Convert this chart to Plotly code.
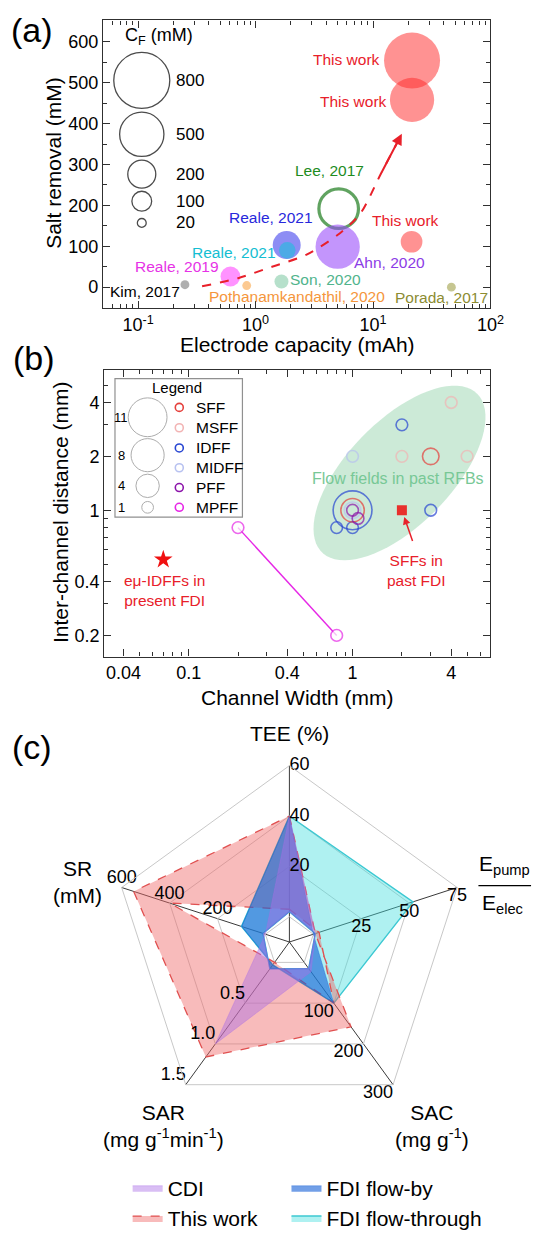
import numpy as np
import plotly.graph_objects as go

W, H = 547, 1239
FONT = "Liberation Sans, Arial, Helvetica, sans-serif"


def fx(p):
    return p / W


def fy(p):
    return 1 - p / H


# ---------------- panel (a) data ----------------
a_labels = ["This work", "This work", "This work", "Lee, 2017", "Ahn, 2020",
            "Reale, 2021", "Reale, 2021", "Reale, 2019", "Son, 2020",
            "Kim, 2017", "Pothanamkandathil, 2020", "Porada, 2017"]
a_capacity_mAh = [21.5, 21.5, 21.3, 5.1, 5.0, 1.84, 1.86, 0.61, 1.66, 0.25, 0.84, 46.5]
a_salt_removal_mM = [554, 458, 111, 192, 99, 103, 90, 26, 14, 6, 4, 0]
a_feed_conc_mM = [800, 500, 120, 400, 500, 200, 70, 100, 50, 20, 20, 20]
cf_legend_values = [800, 500, 200, 100, 20]
a_xticks = [0.1, 1, 10, 100]
a_xticktext = ["10<sup>-1</sup>", "10<sup>0</sup>", "10<sup>1</sup>", "10<sup>2</sup>"]
a_yticks = [0, 100, 200, 300, 400, 500, 600]
trend_capacity = [0.35, 0.71, 1.38, 2.69, 5.23, 7.8, 11.7, 17.6]
trend_removal = [2, 22, 50, 79, 132, 180, 278, 375]

# ---------------- panel (b) data ----------------
sff_width = [3, 1];            sff_dist = [2, 1];            sff_n = [2, 4]
msff_width = [4, 2, 5];        msff_dist = [4, 2, 2];        msff_n = [1, 1, 1]
idff_width = [2, 1, 0.8, 1, 3]; idff_dist = [3, 1, 0.8, 0.8, 1]; idff_n = [1, 11, 1, 1, 1]
midff_width = [1, 1];          midff_dist = [2, 1];          midff_n = [1, 2]
pff_width = [1, 1.08];         pff_dist = [1, 0.9];          pff_n = [1, 1]
mpff_width = [0.2, 0.8];       mpff_dist = [0.8, 0.2];       mpff_n = [1, 1]
present_fdi_width = [0.07];    present_fdi_dist = [0.53]
past_fdi_width = [2];          past_fdi_dist = [1]
ff_types = ["SFF", "MSFF", "IDFF", "MIDFF", "PFF", "MPFF"]
count_legend_values = [11, 8, 4, 1]
b_xticks = [0.04, 0.1, 0.4, 1, 4]
b_yticks = [0.2, 0.4, 1, 2, 4]

# ---------------- panel (c) data ----------------
radar_axes = ["TEE", "Epump/Eelec", "SAC", "SAR", "SR"]
radar_max = [60, 75, 300, 1.5, 600]
tee_ticks = [0, 20, 40, 60]
epump_ticks = [0, 25, 50, 75]
sac_ticks = [0, 100, 200, 300]
sar_ticks = [0.0, 0.5, 1.0, 1.5]
sr_ticks = [0, 200, 400, 600]
cdi_a = [40, 1, 23, 1.0, 0]
cdi_b = [2, 1, 15, 0.08, 10]
this_work_a = [40, 1, 158, 1.16, 550]
this_work_b = [3, 3, 100, 0.0, 400]
flow_by_a = [40, 0, 100, 0.03, 100]
flow_by_b = [2, 1, 15, 0.08, 10]
flow_through_a = [40, 52, 100, 0.03, 100]
flow_through_b = [2, 1, 15, 0.08, 10]

fig = go.Figure()

# ---------------- panel (a) ----------------
SIZEREF_A = 0.51
a_fill = ['rgba(255,40,40,0.72)', 'rgba(255,40,40,0.72)', 'rgba(255,40,40,0.72)',
          'rgba(0,0,0,0)', 'rgba(150,70,250,0.82)', 'rgba(45,45,235,0.78)',
          'rgba(30,190,220,0.85)', 'rgba(255,60,255,0.8)', 'rgba(80,180,130,0.6)',
          'rgba(120,120,120,0.85)', 'rgba(250,160,60,0.8)', 'rgba(160,160,70,0.85)']
a_line_c = ['rgba(0,0,0,0)'] * 3 + ['#1E7D1E'] + ['rgba(0,0,0,0)'] * 8
a_line_w = [0, 0, 0, 3.2, 0, 0, 0, 0, 0, 0, 0, 0]
fig.add_trace(go.Scatter(
    x=a_capacity_mAh, y=a_salt_removal_mM, mode='markers', xaxis='x', yaxis='y',
    marker=dict(size=a_feed_conc_mM, sizemode='area', sizeref=SIZEREF_A,
                color=a_fill, line=dict(color=a_line_c, width=a_line_w)),
    showlegend=False, hoverinfo='skip'))
fig.add_trace(go.Scatter(
    x=trend_capacity, y=trend_removal, mode='lines', xaxis='x', yaxis='y',
    line=dict(color='#E8202A', width=2, dash='dash', shape='spline', smoothing=0.8),
    showlegend=False, hoverinfo='skip'))

# ---------------- panel (b) ----------------
SIZEREF_B = 0.0146
ff_colors = {"SFF": '#E5403C', "MSFF": '#F2B4B4', "IDFF": '#2846D2',
             "MIDFF": '#B8C2F0', "PFF": '#8C14AA', "MPFF": '#E628E6'}
groups_b = [("IDFF", idff_width, idff_dist, idff_n),
            ("SFF", sff_width, sff_dist, sff_n),
            ("MSFF", msff_width, msff_dist, msff_n),
            ("MIDFF", midff_width, midff_dist, midff_n),
            ("PFF", pff_width, pff_dist, pff_n)]
for name, xs, ys, ns in groups_b:
    fig.add_trace(go.Scatter(
        x=xs, y=ys, mode='markers', xaxis='x2', yaxis='y2',
        marker=dict(size=ns, sizemode='area', sizeref=SIZEREF_B,
                    color='rgba(0,0,0,0)', line=dict(color=ff_colors[name], width=1.6)),
        showlegend=False, hoverinfo='skip'))
fig.add_trace(go.Scatter(
    x=mpff_width, y=mpff_dist, mode='lines+markers', xaxis='x2', yaxis='y2',
    line=dict(color=ff_colors["MPFF"], width=1.4),
    marker=dict(size=mpff_n, sizemode='area', sizeref=SIZEREF_B,
                color='white', line=dict(color=ff_colors["MPFF"], width=1.6)),
    showlegend=False, hoverinfo='skip'))
fig.add_trace(go.Scatter(
    x=present_fdi_width, y=present_fdi_dist, mode='markers', xaxis='x2', yaxis='y2',
    marker=dict(symbol='star', size=14, color='#F01010', line=dict(width=0)),
    showlegend=False, hoverinfo='skip'))
fig.add_trace(go.Scatter(
    x=past_fdi_width, y=past_fdi_dist, mode='markers', xaxis='x2', yaxis='y2',
    marker=dict(symbol='square', size=10, color='#E8302C', line=dict(width=0)),
    showlegend=False, hoverinfo='skip'))

# ---------------- legend glyphs (pixel overlay axes) ----------------
cf_leg_y = [81.3, 135.7, 176.0, 203.3, 225.3]
fig.add_trace(go.Scatter(
    x=[145.5] * len(cf_legend_values), y=cf_leg_y, mode='markers', xaxis='x3', yaxis='y3',
    marker=dict(size=cf_legend_values, sizemode='area', sizeref=SIZEREF_A,
                color='rgba(0,0,0,0)', line=dict(color='black', width=1.3)),
    showlegend=False, hoverinfo='skip'))
cnt_leg_y = [421.7, 460.0, 491.0, 512.7]
fig.add_trace(go.Scatter(
    x=[151.5] * len(count_legend_values), y=cnt_leg_y, mode='markers', xaxis='x3', yaxis='y3',
    marker=dict(size=count_legend_values, sizemode='area', sizeref=SIZEREF_B,
                color='rgba(0,0,0,0)', line=dict(color='#8a8a8a', width=1)),
    showlegend=False, hoverinfo='skip'))
type_leg_y = [411.7, 432.3, 452.7, 472.7, 492.7, 512.7]
fig.add_trace(go.Scatter(
    x=[184] * len(ff_types), y=type_leg_y, mode='markers', xaxis='x3', yaxis='y3',
    marker=dict(size=8, color='rgba(0,0,0,0)',
                line=dict(color=[ff_colors[t] for t in ff_types], width=1.6)),
    showlegend=False, hoverinfo='skip'))

# ---------------- panel (c) radar ----------------
def loop(vals, reverse=False):
    r = [v / m for v, m in zip(vals, radar_max)]
    th = list(radar_axes)
    if reverse:
        r = [r[0]] + r[1:][::-1]
        th = [th[0]] + th[1:][::-1]
    return r + [r[0]], th + [th[0]]


def group_path(a, b):
    ra, ta = loop(a)
    rb, tb = loop(b, reverse=True)
    return ra + [None] + rb, ta + [None] + tb


radar_groups = [
    ("FDI flow-through", flow_through_a, flow_through_b, 'rgba(64,222,222,0.42)',
     dict(color='#3CC8D2', width=1.4), 2, 'legend2'),
    ("This work", this_work_a, this_work_b, 'rgba(240,105,105,0.45)',
     dict(color='#E05050', width=1.3, dash='dash'), 2, 'legend'),
    ("FDI flow-by", flow_by_a, flow_by_b, 'rgba(20,95,215,0.6)',
     dict(color='rgba(20,95,215,0.6)', width=0.6), 1, 'legend2'),
    ("CDI", cdi_a, cdi_b, 'rgba(170,110,230,0.45)',
     dict(color='rgba(170,110,230,0.6)', width=0.6), 1, 'legend'),
]
for name, a, b, fc, ln, rank, lg in radar_groups:
    rr, tt = group_path(a, b)
    fig.add_trace(go.Scatterpolar(
        r=rr, theta=tt, mode='lines', fill='toself', fillcolor=fc, line=ln,
        name=name, legendrank=rank, legend=lg, connectgaps=False, hoverinfo='skip'))

tick_sets = [(tee_ticks, "TEE", ["0", "20", "40", "60"], 'middle right'),
             (epump_ticks, "Epump/Eelec", ["0", "25", "50", "75"], 'bottom center'),
             (sac_ticks, "SAC", ["0", "100", "200", "300"], 'bottom left'),
             (sar_ticks, "SAR", ["0.0", "0.5", "1.0", "1.5"], 'top left'),
             (sr_ticks, "SR", ["0", "200", "400", "600"], 'top center')]
for ticks, ax_name, txt, pos in tick_sets:
    m = radar_max[radar_axes.index(ax_name)]
    fig.add_trace(go.Scatterpolar(
        r=[t / m for t in ticks], theta=[ax_name] * len(ticks), mode='text',
        text=txt, textposition=pos, textfont=dict(size=18, color='black', family=FONT),
        showlegend=False, hoverinfo='skip'))

# ---------------- annotations ----------------
ann = []


def text(x, y, s, size=15.5, color='black', xanchor='center', angle=0):
    ann.append(dict(x=fx(x), y=fy(y), xref='paper', yref='paper', text=s, showarrow=False,
                    xanchor=xanchor, yanchor='middle', textangle=angle,
                    font=dict(size=size, color=color, family=FONT)))


# panel labels
text(33, 30, "(a)", 34)
text(35, 362, "(b)", 34)
text(33, 755, "(c)", 34)

# panel (a)
text(55, 165, "Salt removal (mM)", 21, angle=-90)
text(305, 348.5, "Electrode capacity (mAh)", 21)
text(163, 37, "C<sub>F</sub> (mM)", 18)
for v, yy in zip(cf_legend_values, cf_leg_y):
    text(178.5, yy, str(v), 17, xanchor='left')
a_lab_pos = [(392.5, 60, 'right'), (399.5, 102.7, 'right'), (416.3, 222.7, 'center'),
             (337.8, 172.7, 'center'), (399.5, 265.7, 'center'), (278.4, 220, 'center'),
             (240, 255, 'center'), (181.4, 269.3, 'center'), (334.3, 282.3, 'center'),
             (149.3, 295, 'center'), (305.3, 300, 'center'), (453.6, 300.5, 'center')]
a_lab_col = ['#E8202A', '#E8202A', '#E8202A', '#1E8C1E', '#8C3CE6', '#2828DC', '#14BED2',
             '#E632E6', '#50B48C', 'black', '#F5963C', '#8C8C32']
for lab, (x, y, xa), c in zip(a_labels, a_lab_pos, a_lab_col):
    text(x, y, lab, 15.5, c, xanchor=xa)
ann.append(dict(x=np.log10(trend_capacity[-1]), y=trend_removal[-1], xref='x', yref='y',
                ax=np.log10(trend_capacity[-2]), ay=trend_removal[-2], axref='x', ayref='y',
                text='', showarrow=True, arrowhead=2, arrowsize=1.1, arrowwidth=2,
                arrowcolor='#E8202A', standoff=0))

# panel (b)
text(62, 518, "Inter-channel distance (mm)", 21, angle=-90)
text(305, 705, "Channel Width (mm)", 21)
text(181.4, 391.7, "Legend", 15)
for v, yy in zip(count_legend_values, cnt_leg_y):
    text(124.6, yy, str(v), 13)
for t, yy in zip(ff_types, type_leg_y):
    text(199, yy, t, 15.5, xanchor='left')
text(408, 484, "Flow fields in past RFBs", 16, '#78C896')
text(168.5, 597, "eμ-IDFFs in<br>present FDI", 15.5, '#E8202A')
text(427.4, 577, "SFFs in<br>past FDI", 15.5, '#E8202A')
ann.append(dict(x=np.log10(past_fdi_width[0]), y=np.log10(past_fdi_dist[0]), xref='x2', yref='y2',
                ax=np.log10(2.34), ay=np.log10(0.66), axref='x2', ayref='y2',
                text='', showarrow=True, arrowhead=2, arrowsize=1, arrowwidth=1.5,
                arrowcolor='#E8202A', standoff=7))

# panel (c)
text(297, 741, "TEE (%)", 21)
text(80, 891, "SR<br>(mM)", 21)
text(167.5, 1137.5, "SAR<br>(mg g<sup>-1</sup>min<sup>-1</sup>)", 21)
text(443, 1137.5, "SAC<br>(mg g<sup>-1</sup>)", 21)
text(518, 874, "E<sub>pump</sub>", 21)
text(516, 914, "E<sub>elec</sub>", 21)

# ---------------- shapes ----------------
shapes = []
t = np.linspace(0, 2 * np.pi, 80)
cx, cy, ea, eb, ang = 410, 478, 113, 53, np.deg2rad(45)
ex = cx + ea * np.cos(t) * np.cos(ang) - eb * np.sin(t) * np.sin(ang)
ey = cy - (ea * np.cos(t) * np.sin(ang) + eb * np.sin(t) * np.cos(ang))
path = "M " + " L ".join(f"{fx(a):.5f},{fy(b):.5f}" for a, b in zip(ex, ey)) + " Z"
shapes.append(dict(type='path', path=path, xref='paper', yref='paper', layer='below',
                   fillcolor='rgba(120,200,150,0.38)', line=dict(width=0)))
shapes.append(dict(type='rect', xref='paper', yref='paper', x0=fx(118), x1=fx(248.8),
                   y0=fy(522.7), y1=fy(382.7), line=dict(color='#909090', width=1.2),
                   fillcolor='rgba(0,0,0,0)'))
shapes.append(dict(type='line', xref='paper', yref='paper', x0=fx(491), x1=fx(545),
                   y0=fy(895), y1=fy(895), line=dict(color='black', width=1.3)))

axis_common = dict(showline=True, linecolor='#303030', linewidth=1.3, mirror='allticks',
                   ticks='inside', ticklen=7, tickwidth=1.2, tickcolor='#303030',
                   showgrid=False, zeroline=False,
                   tickfont=dict(size=18, color='black', family=FONT))


def log_minor(lo, hi):
    vals = []
    for d in range(lo, hi + 1):
        for k in range(2, 10):
            vals.append(k * 10.0 ** d)
    return vals


legend_common = dict(orientation='v', xanchor='left', yanchor='top',
                     font=dict(size=21, family=FONT), bgcolor='rgba(0,0,0,0)',
                     tracegroupgap=0, traceorder='normal')

fig.update_layout(
    width=W, height=H, margin=dict(l=0, r=0, t=0, b=0),
    paper_bgcolor='white', plot_bgcolor='rgba(0,0,0,0)',
    font=dict(family=FONT, color='black'),
    hovermode=False,
    xaxis=dict(domain=[fx(105.7), fx(503.3)], anchor='y', type='log', range=[-1.3, 2.0],
               tickmode='array', tickvals=a_xticks, ticktext=a_xticktext,
               minor=dict(tickmode='array', tickvals=log_minor(-2, 1), ticks='inside',
                          ticklen=4, tickcolor='#303030'),
               **axis_common),
    yaxis=dict(domain=[fy(311.7), fy(20.7)], anchor='x', range=[-52, 652],
               tickmode='array', tickvals=a_yticks,
               minor=dict(tickmode='array', tickvals=[50, 150, 250, 350, 450, 550, 650],
                          ticks='inside', ticklen=4, tickcolor='#303030'),
               **axis_common),
    xaxis2=dict(domain=[fx(107), fx(503.1)], anchor='y2', type='log', range=[-1.515, 0.840],
                tickmode='array', tickvals=b_xticks, ticktext=[str(v) for v in b_xticks],
                minor=dict(tickmode='array', tickvals=log_minor(-2, 0), ticks='inside',
                           ticklen=4, tickcolor='#303030'),
                **axis_common),
    yaxis2=dict(domain=[fy(663.5), fy(374)], anchor='x2', type='log', range=[-0.817, 0.783],
                tickmode='array', tickvals=b_yticks, ticktext=[str(v) for v in b_yticks],
                minor=dict(tickmode='array', tickvals=log_minor(-1, 0), ticks='inside',
                           ticklen=4, tickcolor='#303030'),
                **axis_common),
    xaxis3=dict(domain=[0, 1], anchor='y3', range=[0, W], visible=False, fixedrange=True),
    yaxis3=dict(domain=[0, 1], anchor='x3', range=[H, 0], visible=False, fixedrange=True),
    polar=dict(
        domain=dict(x=[fx(116), fx(478)], y=[fy(1133), fy(771)]),
        gridshape='linear', bgcolor='rgba(0,0,0,0)',
        radialaxis=dict(range=[-1 / 6, 1], tickmode='array', tickvals=[0, 1 / 3, 2 / 3, 1],
                        showticklabels=False, ticks='', showline=False,
                        gridcolor='#c8c8c8', gridwidth=1),
        angularaxis=dict(direction='clockwise', rotation=90, showticklabels=False, ticks='',
                         categoryorder='array', categoryarray=radar_axes,
                         gridcolor='#3a3a3a', gridwidth=1, showline=True,
                         linecolor='#c8c8c8', linewidth=1),
    ),
    legend=dict(x=fx(131), y=fy(1180), **legend_common),
    legend2=dict(x=fx(294), y=fy(1180), **legend_common),
    annotations=ann, shapes=shapes,
)

fig.write_html("out.html")
